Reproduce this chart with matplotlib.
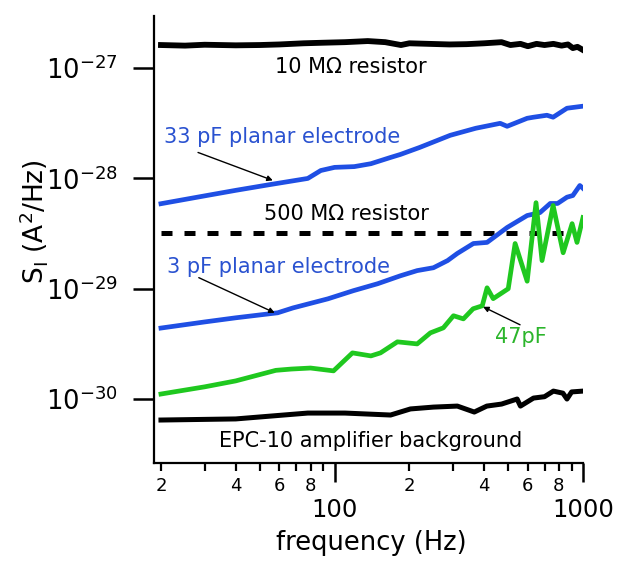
import matplotlib
matplotlib.use('Agg')
import matplotlib.pyplot as plt
from matplotlib.ticker import FixedLocator, FuncFormatter, NullLocator, LogFormatterMathtext

# noise spectra (frequency in Hz, S_I in A^2/Hz)
freq_10m = [20, 25, 30, 40, 50, 60, 75, 90, 110, 136, 160, 185, 200, 240, 290, 340,
            400, 470, 510, 560, 600, 650, 700, 760, 820, 870, 910, 950, 1000]
psd_10m = [1.62, 1.60, 1.63, 1.61, 1.62, 1.64, 1.68, 1.70, 1.72, 1.76, 1.72, 1.62, 1.68,
           1.66, 1.64, 1.65, 1.68, 1.72, 1.62, 1.66, 1.58, 1.66, 1.62, 1.66, 1.60, 1.64,
           1.52, 1.56, 1.46]  # x 1e-27

freq_500m = [20, 870]
psd_500m = [3.2, 3.2]  # x 1e-29

freq_33pf = [20, 30, 40, 55, 78, 88, 100, 120, 140, 168, 184, 220, 292, 370, 464, 495,
             596, 632, 716, 758, 862, 1000]
psd_33pf = [0.59, 0.695, 0.78, 0.88, 1.0, 1.18, 1.26, 1.28, 1.36, 1.55, 1.65, 1.91, 2.46,
            2.85, 3.16, 2.97, 3.51, 3.59, 3.74, 3.59, 4.33, 4.52]  # x 1e-28

freq_3pf = [20, 30, 40, 59, 68, 94, 119, 149, 184, 215, 250, 285, 312, 362, 411, 495,
            596, 671, 738, 790, 862, 910, 971, 1000]
psd_3pf = [0.44, 0.50, 0.545, 0.605, 0.67, 0.81, 0.96, 1.11, 1.31, 1.46, 1.55, 1.80, 2.09,
           2.57, 2.63, 3.59, 4.61, 4.90, 5.93, 5.93, 6.76, 7.0, 8.63, 8.13]  # x 1e-29

freq_47pf = [20, 30, 40, 58, 67, 80, 99, 118, 140, 153, 179, 215, 243, 274, 301, 330,
             361, 393, 411, 435, 500, 533, 596, 647, 684, 758, 832, 904, 946, 1000]
psd_47pf = [1.11, 1.29, 1.46, 1.82, 1.87, 1.91, 1.80, 2.62, 2.46, 2.62, 3.30, 3.16, 3.98,
            4.42, 5.69, 5.33, 6.58, 7.00, 10.2, 8.13, 10.0, 25.7, 11.7, 60.3, 18.0, 56.9,
            21.2, 38.9, 26.3, 44.2]  # x 1e-30

freq_epc = [20, 40, 78, 110, 168, 202, 250, 312, 365, 410, 470, 543, 560, 632, 700, 760,
            830, 862, 900, 1000]
psd_epc = [6.45, 6.6, 7.46, 7.46, 7.16, 8.13, 8.45, 8.63, 7.62, 8.63, 9.0, 10.0, 8.63,
           10.2, 10.5, 11.8, 11.3, 10.0, 11.6, 11.8]  # x 1e-31

major_x = [100, 1000]
minor_x = [20, 30, 40, 50, 60, 70, 80, 90, 200, 300, 400, 500, 600, 700, 800, 900]
labelled_minor = [2, 4, 6, 8]
major_y = [1e-30, 1e-29, 1e-28, 1e-27]

blue = '#1f4fe4'
blue_txt = '#2a52d0'
green = '#1fc81f'
green_txt = '#2bb52b'


def scaled(vals, scale):
    return [v * scale for v in vals]


fig = plt.figure(figsize=(6.24, 5.67), dpi=100)
ax = fig.add_axes([154 / 624, 1 - 463 / 567, (583 - 154) / 624, (463 - 16) / 567])

ax.plot(freq_10m, scaled(psd_10m, 1e-27), color='black', lw=4.2, solid_joinstyle='round')
ax.plot(freq_500m, scaled(psd_500m, 1e-29), color='black', lw=3.6, dashes=(2.2, 2.4))
ax.plot(freq_33pf, scaled(psd_33pf, 1e-28), color=blue, lw=3.4, solid_joinstyle='round')
ax.plot(freq_3pf, scaled(psd_3pf, 1e-29), color=blue, lw=3.4, solid_joinstyle='round')
ax.plot(freq_47pf, scaled(psd_47pf, 1e-30), color=green, lw=3.4, solid_joinstyle='round')
ax.plot(freq_epc, scaled(psd_epc, 1e-31), color='black', lw=3.6, solid_joinstyle='round')

ax.set_xscale('log')
ax.set_yscale('log')
ax.set_xlim(18.75, 1000)
ax.set_ylim(2.63e-31, 2.97e-27)

# axes look: only left and bottom lines
for s in ['top', 'right']:
    ax.spines[s].set_visible(False)
for s in ['left', 'bottom']:
    ax.spines[s].set_linewidth(1.6)

ax.xaxis.set_major_locator(FixedLocator(major_x))
ax.xaxis.set_major_formatter(FuncFormatter(lambda v, p: '%d' % v))
ax.xaxis.set_minor_locator(FixedLocator(minor_x))


def minor_fmt(v, p):
    d = int(round(v / 10 ** int(len(str(int(round(v)))) - 1)))
    return str(d) if d in labelled_minor else ''


ax.xaxis.set_minor_formatter(FuncFormatter(minor_fmt))
ax.yaxis.set_major_locator(FixedLocator(major_y))
ax.yaxis.set_major_formatter(LogFormatterMathtext())
ax.yaxis.set_minor_locator(NullLocator())

ax.tick_params(axis='x', which='major', direction='out', length=13.5, width=1.8,
               labelsize=17.5, pad=12)
ax.tick_params(axis='x', which='minor', direction='out', length=6, width=1.6,
               labelsize=13, pad=4)
ax.tick_params(axis='y', which='major', direction='out', length=15, width=1.8,
               labelsize=18.5, pad=11)

ax.set_xlabel('frequency (Hz)', fontsize=18.5)
ax.xaxis.set_label_coords(0.506, -0.15)
fig.text(34 / 624, 1 - 222 / 567, r'S$_\mathregular{I}$ (A$^\mathregular{2}$/Hz)',
         rotation=90, ha='center', va='center', fontsize=19)

# curve labels
ax.text(116, 9.0e-28, '10 M\u03a9 resistor', ha='center', va='baseline', fontsize=15)
ax.text(61.3, 2.08e-28, '33 pF planar electrode', ha='center', va='baseline',
        fontsize=15, color=blue_txt)
ax.text(111.7, 4.24e-29, '500 M\u03a9 resistor', ha='center', va='baseline', fontsize=15)
ax.text(59.6, 1.40e-29, '3 pF planar electrode', ha='center', va='baseline',
        fontsize=15, color=blue_txt)
ax.text(443.6, 3.23e-30, '47pF', ha='left', va='baseline', fontsize=15, color=green_txt)
ax.text(139.5, 3.67e-31, 'EPC-10 amplifier background', ha='center', va='baseline',
        fontsize=15)

arrow = dict(arrowstyle='-|>', color='black', lw=1.0, mutation_scale=8, shrinkA=0, shrinkB=0)
ax.annotate('', xy=(56.4, 9.6e-29), xytext=(28.2, 1.72e-28), arrowprops=arrow)
ax.annotate('', xy=(57.4, 6.05e-30), xytext=(28.4, 1.26e-29), arrowprops=arrow)
ax.annotate('', xy=(396, 6.86e-30), xytext=(558, 4.71e-30), arrowprops=arrow)

fig.savefig('out.png', dpi=100)
